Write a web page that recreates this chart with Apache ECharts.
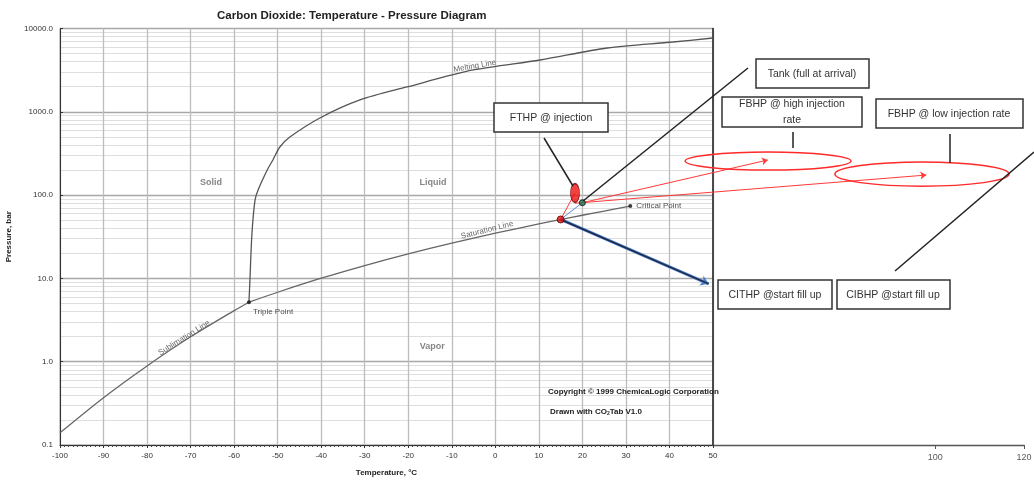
<!DOCTYPE html>
<html><head><meta charset="utf-8">
<script src="https://cdn.jsdelivr.net/npm/echarts@6/dist/echarts.min.js"></script>
<style>html,body{margin:0;padding:0;background:#fff}#c{width:1034px;height:485px}</style>
</head><body><div id="c"></div>
<script>
// ---- data ----
const extTickLabels = [100, 120];
const minorPressures = [0.2,0.3,0.4,0.5,0.6,0.7,0.8,0.9, 2,3,4,5,6,7,8,9, 20,30,40,50,60,70,80,90, 200,300,400,500,600,700,800,900, 2000,3000,4000,5000,6000,7000,8000,9000];

const meltT = [-56.6, -56.4, -55.9, -55.2, -54.5, -52.4, -51.1, -49.5, -47.2, -40.3, -31.1, -20.3, -5.1, 10.3, 25.7, 40.8, 50];
const meltP = [5.18, 8.8, 35, 87, 115, 200, 264, 378, 498, 843, 1387, 1986, 3177, 4188, 5835, 6887, 7690];

const satT = [-56.6, -50, -40, -30, -20, -10, 0, 10, 15, 20, 25, 31];
const satP = [5.18, 6.82, 10.05, 14.28, 19.7, 26.5, 34.85, 45.0, 50.9, 57.3, 64.3, 73.8];

const subT = [-100, -90, -80, -70, -60, -56.6];
const subP = [0.14, 0.37, 0.89, 1.99, 4.1, 5.18];

const keyNames = ['Triple Point', 'Critical Point'];
const keyT = [-56.6, 31.0];
const keyP = [5.18, 73.8];

const phaseNames = ['Solid', 'Liquid', 'Vapor'];
const phaseT = [-65.3, -14.3, -14.5];
const phaseP = [140, 140, 1.54];

const curveNames = ['Melting Line', 'Saturation Line', 'Sublimation Line'];
const curveLabelT = [-4.7, -1.9, -71.5];
const curveLabelP = [3548, 38, 1.93];

// process states
const startFill = [15, 51];      // CITHP @ start fill up
const tank = [20, 81];           // Tank (full at arrival)
const fthp = [18.3, 106];        // FTHP @ injection
const cibhpEnd = [49, 8.6];      // end of start-fill-up arrow
const fbhpHigh = [62.6, 264];    // arrow tip, high injection rate
const fbhpLow = [99, 174];       // arrow tip, low injection rate
// ellipses: [T left, T right, P low, P high]
const ellipses = [[43.6, 81.7, 200, 329], [78.0, 118.0, 128, 250]];

// ---- chart ----
const FONT = 'Liberation Sans, Arial, sans-serif';
const zip = (a, b) => a.map((v, i) => [v, b[i]]);
const chart = echarts.init(document.getElementById('c'), null, {renderer: 'canvas'});

const curveRot = [10, 14, 32];

const option = {
  animation: false,
  backgroundColor: '#fff',
  textStyle: {fontFamily: FONT},
  title: {
    text: 'Carbon Dioxide: Temperature - Pressure Diagram',
    left: 212, top: 5,
    textStyle: {fontSize: 11.5, fontWeight: 'bold', color: '#222', fontFamily: FONT}
  },
  grid: [
    {left: 60, right: 321, top: 28.5, bottom: 40, show: true, borderColor: '#999', borderWidth: 1, outerBoundsMode: 'none', containLabel: false},
    {left: 713, right: 10, top: 28.5, bottom: 40, outerBoundsMode: 'none', containLabel: false}
  ],
  xAxis: [
    {
      gridIndex: 0, type: 'value', min: -100, max: 50, interval: 10, z: 2,
      name: 'Temperature, °C', nameLocation: 'middle', nameGap: 24,
      nameTextStyle: {fontSize: 8, fontWeight: 'bold', color: '#222', fontFamily: FONT},
      axisLine: {onZero: false, lineStyle: {color: '#333', width: 1}},
      axisTick: {show: true, length: 3, lineStyle: {color: '#333'}},
      minorTick: {show: true, splitNumber: 10, length: 2, lineStyle: {color: '#444'}},
      axisLabel: {fontSize: 8, color: '#333', margin: 7, fontFamily: FONT},
      splitLine: {show: true, lineStyle: {color: '#bdbdbd', width: 1.3}}
    },
    {
      gridIndex: 1, type: 'value', min: 50, max: 120, z: 2,
      axisLine: {onZero: false, lineStyle: {color: '#555', width: 1.3}},
      axisTick: {show: true, length: 4, customValues: extTickLabels, lineStyle: {color: '#555'}},
      axisLabel: {fontSize: 9, color: '#595959', margin: 8, customValues: extTickLabels, fontFamily: FONT},
      splitLine: {show: false}
    }
  ],
  yAxis: [
    {
      gridIndex: 0, type: 'log', logBase: 10, min: 0.1, max: 10000, z: 2,
      name: 'Pressure, bar', nameLocation: 'middle', nameGap: 43, nameRotate: 90,
      nameTextStyle: {fontSize: 8, fontWeight: 'bold', color: '#222', fontFamily: FONT},
      axisLine: {show: true, onZero: false, lineStyle: {color: '#333', width: 1}},
      axisTick: {show: true, length: 3, inside: true, lineStyle: {color: '#333'}},
      axisLabel: {fontSize: 8, color: '#333', margin: 7, fontFamily: FONT,
        formatter: v => Number(v).toFixed(1)},
      splitLine: {show: true, lineStyle: {color: '#a8a8a8', width: 1.3}}
    },
    {
      gridIndex: 0, type: 'log', logBase: 10, min: 0.1, max: 10000, position: 'right', z: 2,
      axisLine: {show: true, onZero: false, lineStyle: {color: '#222', width: 1.5}},
      axisTick: {show: false}, axisLabel: {show: false}, splitLine: {show: false}
    },
    {gridIndex: 1, type: 'value', show: false, min: 0, max: 1, axisLine: {onZero: false}}
  ],
  series: [
    {
      name: 'minor', type: 'line', xAxisIndex: 0, yAxisIndex: 0, data: [], z: 1, silent: true,
      markLine: {
        z: 1, silent: true, symbol: 'none', label: {show: false}, animation: false,
        lineStyle: {color: '#dedede', type: 'solid', width: 1.2},
        data: minorPressures.map(v => ({yAxis: v}))
      }
    },
    {
      name: 'Melting Line', type: 'line', data: zip(meltT, meltP), showSymbol: false, smooth: 0.3, z: 3,
      lineStyle: {color: '#555', width: 1.3}
    },
    {
      name: 'Saturation Line', type: 'line', data: zip(satT, satP), showSymbol: false, smooth: 0.3, z: 3,
      lineStyle: {color: '#666', width: 1.3}
    },
    {
      name: 'Sublimation Line', type: 'line', data: zip(subT, subP), showSymbol: false, smooth: 0.3, z: 3,
      lineStyle: {color: '#666', width: 1.3}
    },
    {
      name: 'key points', type: 'scatter', z: 5, symbolSize: 4, itemStyle: {color: '#111'},
      data: keyNames.map((n, i) => ({
        name: n, value: [keyT[i], keyP[i]],
        label: i === 0
          ? {show: true, formatter: n, position: 'right', distance: 2, offset: [0, 10], fontSize: 8, color: '#222', fontFamily: FONT}
          : {show: true, formatter: n, position: 'right', distance: 4, offset: [0, 0], fontSize: 8, color: '#222', fontFamily: FONT}
      }))
    },
    {
      name: 'phases', type: 'scatter', z: 5, symbolSize: 0, silent: true,
      data: phaseNames.map((n, i) => ({
        value: [phaseT[i], phaseP[i]],
        label: {show: true, formatter: n, position: 'inside', fontSize: 9, fontWeight: 'bold', color: '#666', fontFamily: FONT}
      }))
    },
    {
      name: 'curve labels', type: 'scatter', z: 5, symbolSize: 0, silent: true,
      data: curveNames.map((n, i) => ({
        value: [curveLabelT[i], curveLabelP[i]],
        label: {show: true, formatter: n, position: 'inside', rotate: curveRot[i], fontSize: 8, color: '#444', fontFamily: FONT}
      }))
    },
    {
      name: 'start fill up blue', type: 'lines', coordinateSystem: 'cartesian2d', z: 6, clip: false,
      xAxisIndex: 0, yAxisIndex: 0, symbol: ['none', 'arrow'], symbolSize: 8,
      lineStyle: {color: '#4a7cc7', width: 3, opacity: 1, curveness: 0},
      data: [{coords: [startFill, cibhpEnd]}]
    },
    {
      name: 'start fill up', type: 'lines', coordinateSystem: 'cartesian2d', z: 7, clip: false,
      xAxisIndex: 0, yAxisIndex: 0, symbol: ['none', 'none'],
      lineStyle: {color: '#1d2a48', width: 1.5, opacity: 1, curveness: 0},
      data: [{coords: [startFill, cibhpEnd]}]
    },
    {
      name: 'thin blue', type: 'lines', coordinateSystem: 'cartesian2d', z: 6, clip: false,
      xAxisIndex: 0, yAxisIndex: 0, symbol: ['none', 'none'],
      lineStyle: {color: '#5b86d0', width: 1, opacity: 1, curveness: 0},
      data: [{coords: [startFill, tank]}]
    },
    {
      name: 'red arrows', type: 'lines', coordinateSystem: 'cartesian2d', z: 6, clip: false,
      xAxisIndex: 0, yAxisIndex: 0, symbol: ['none', 'arrow'], symbolSize: 6,
      lineStyle: {color: '#ff3a3a', width: 1, opacity: 1, curveness: 0},
      data: [{coords: [tank, fbhpHigh]}, {coords: [[fthp[0], 80], fbhpLow]}]
    },
    {
      name: 'red to fthp', type: 'lines', coordinateSystem: 'cartesian2d', z: 6, clip: false,
      xAxisIndex: 0, yAxisIndex: 0, symbol: ['none', 'none'],
      lineStyle: {color: '#ff3a3a', width: 1, opacity: 1, curveness: 0},
      data: [{coords: [startFill, fthp]}]
    },
    {
      name: 'ellipses', type: 'custom', z: 6, clip: false, silent: true,
      xAxisIndex: 0, yAxisIndex: 0,
      encode: {x: [0, 1], y: [2, 3]},
      data: ellipses,
      renderItem: function (params, api) {
        const a = api.coord([api.value(0), api.value(3)]);
        const b = api.coord([api.value(1), api.value(2)]);
        return {
          type: 'ellipse',
          shape: {cx: (a[0] + b[0]) / 2, cy: (a[1] + b[1]) / 2, rx: Math.abs(b[0] - a[0]) / 2, ry: Math.abs(b[1] - a[1]) / 2},
          style: {fill: 'none', stroke: '#ff2a2a', lineWidth: 1.5}
        };
      }
    },
    {
      name: 'states', type: 'scatter', z: 8,
      data: [
        {value: startFill, symbolSize: 7, itemStyle: {color: '#e01010', borderColor: '#500', borderWidth: 1}},
        {value: tank, symbolSize: 6, itemStyle: {color: '#1f7a4f', borderColor: '#102', borderWidth: 1}},
        {value: fthp, symbolSize: [9, 19], itemStyle: {color: '#ee1111', borderColor: '#600', borderWidth: 1}}
      ]
    }
  ],
  graphic: [
    // copyright texts
    {type: 'text', left: 548, top: 388, z: 10, style: {text: 'Copyright © 1999 ChemicaLogic Corporation', font: 'bold 8px ' + FONT, fill: '#222'}},
    {type: 'text', left: 550, top: 408, z: 10, style: {
      text: '{a|Drawn with CO}{s|2}{a|Tab V1.0}',
      rich: {a: {font: 'bold 8px ' + FONT, fill: '#222'}, s: {font: 'bold 5px ' + FONT, fill: '#222', verticalAlign: 'bottom', padding: [4, 0, 0, 0]}}
    }},
    // leader lines
    {type: 'line', z: 10, shape: {x1: 544, y1: 138, x2: 573, y2: 186}, style: {stroke: '#222', lineWidth: 1.5}},
    {type: 'line', z: 10, shape: {x1: 748, y1: 68, x2: 583, y2: 201}, style: {stroke: '#222', lineWidth: 1.5}},
    {type: 'line', z: 10, shape: {x1: 793, y1: 132, x2: 793, y2: 148}, style: {stroke: '#222', lineWidth: 1.5}},
    {type: 'line', z: 10, shape: {x1: 950, y1: 134, x2: 950, y2: 163}, style: {stroke: '#222', lineWidth: 1.5}},
    {type: 'line', z: 10, shape: {x1: 895, y1: 271, x2: 1034, y2: 152}, style: {stroke: '#222', lineWidth: 1.5}},
    // boxes
    {type: 'rect', z: 10, shape: {x: 494, y: 103, width: 114, height: 29}, style: {fill: '#fff', stroke: '#333', lineWidth: 1.5}},
    {type: 'text', z: 11, x: 551, y: 118, style: {text: 'FTHP @ injection', font: '10.5px ' + FONT, fill: '#333', textAlign: 'center', textVerticalAlign: 'middle'}},
    {type: 'rect', z: 10, shape: {x: 756, y: 59, width: 113, height: 29}, style: {fill: '#fff', stroke: '#333', lineWidth: 1.5}},
    {type: 'text', z: 11, x: 812, y: 74, style: {text: 'Tank (full at arrival)', font: '10.5px ' + FONT, fill: '#333', textAlign: 'center', textVerticalAlign: 'middle'}},
    {type: 'rect', z: 10, shape: {x: 722, y: 97, width: 140, height: 30}, style: {fill: '#fff', stroke: '#333', lineWidth: 1.5}},
    {type: 'text', z: 11, x: 792, y: 104, style: {text: 'FBHP @ high injection', font: '10.5px ' + FONT, fill: '#333', textAlign: 'center', textVerticalAlign: 'middle'}},
    {type: 'text', z: 11, x: 792, y: 120, style: {text: 'rate', font: '10.5px ' + FONT, fill: '#333', textAlign: 'center', textVerticalAlign: 'middle'}},
    {type: 'rect', z: 10, shape: {x: 876, y: 99, width: 147, height: 29}, style: {fill: '#fff', stroke: '#333', lineWidth: 1.5}},
    {type: 'text', z: 11, x: 949, y: 114, style: {text: 'FBHP @ low injection rate', font: '10.5px ' + FONT, fill: '#333', textAlign: 'center', textVerticalAlign: 'middle'}},
    {type: 'rect', z: 10, shape: {x: 718, y: 280, width: 114, height: 29}, style: {fill: '#fff', stroke: '#333', lineWidth: 1.5}},
    {type: 'text', z: 11, x: 775, y: 295, style: {text: 'CITHP @start fill up', font: '10.5px ' + FONT, fill: '#333', textAlign: 'center', textVerticalAlign: 'middle'}},
    {type: 'rect', z: 10, shape: {x: 837, y: 280, width: 113, height: 29}, style: {fill: '#fff', stroke: '#333', lineWidth: 1.5}},
    {type: 'text', z: 11, x: 893, y: 295, style: {text: 'CIBHP @start fill up', font: '10.5px ' + FONT, fill: '#333', textAlign: 'center', textVerticalAlign: 'middle'}}
  ]
};
chart.setOption(option);
</script>
</body></html>
